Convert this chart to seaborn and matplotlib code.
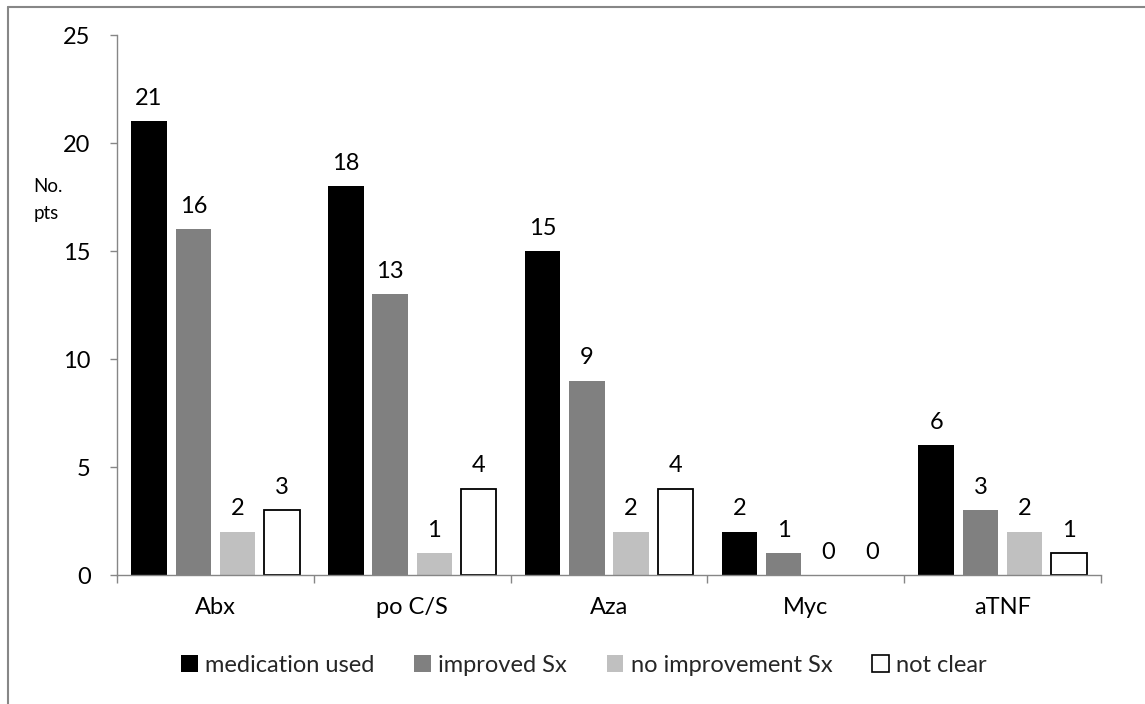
import matplotlib
matplotlib.use("Agg")
import matplotlib.pyplot as plt
import matplotlib.lines as mlines
import numpy as np
import pandas as pd
import seaborn as sns

# Treatment groups and outcome counts (number of patients)
categories = ["Abx", "po C/S", "Aza", "Myc", "aTNF"]
series_names = ["medication used", "improved Sx", "no improvement Sx", "not clear"]
medication_used = [21, 18, 15, 2, 6]
improved_sx = [16, 13, 9, 1, 3]
no_improvement_sx = [2, 1, 2, 0, 2]
not_clear = [3, 4, 4, 0, 1]
y_ticks = [0, 5, 10, 15, 20, 25]

series_values = [medication_used, improved_sx, no_improvement_sx, not_clear]
df = pd.DataFrame(
    [(c, s, v) for s, vals in zip(series_names, series_values) for c, v in zip(categories, vals)],
    columns=["drug", "outcome", "pts"],
)

sns.set_theme(style="white")
plt.rcParams["font.family"] = ["Lato", "DejaVu Sans"]

face_colors = {"medication used": "#000000", "improved Sx": "#808080",
               "no improvement Sx": "#C0C0C0", "not clear": "#FFFFFF"}
axis_grey = "#868686"
FS = 17

fig = plt.figure(figsize=(11.45, 7.04), dpi=100)
ax = fig.add_axes([0.1022, 0.1832, 0.8594, 0.7670])

sns.barplot(data=df, x="drug", y="pts", hue="outcome", hue_order=series_names,
            order=categories, palette=face_colors, saturation=1, width=0.9, gap=0.2,
            ax=ax, legend=False, errorbar=None)

for name, cont in zip(series_names, ax.containers):
    for patch in cont:
        if name == "not clear" and patch.get_height() > 0:
            patch.set_edgecolor("#000000")
            patch.set_linewidth(1.3)
        else:
            patch.set_edgecolor("none")
            patch.set_linewidth(0)
    ax.bar_label(cont, labels=[str(int(p.get_height())) for p in cont],
                 padding=9, fontsize=FS, color="#000000")

ax.set_xlim(-0.5, len(categories) - 0.5)
ax.set_ylim(0, 25)
ax.set_yticks(y_ticks)
ax.set_xlabel("")
ax.set_ylabel("")

# category labels centred, tick marks at the boundaries between groups
ax.set_xticks(range(len(categories)))
ax.set_xticklabels(categories)
ax.set_xticks(np.arange(-0.5, len(categories)), minor=True)
ax.tick_params(axis="x", which="major", length=0, pad=16, labelsize=FS, colors="#000000")
ax.tick_params(axis="x", which="minor", bottom=True, length=6, width=1, color=axis_grey, direction="out")
ax.tick_params(axis="y", left=True, length=5, width=1, color=axis_grey, pad=14,
               labelsize=FS, labelcolor="#000000", direction="out")

for side in ["top", "right"]:
    ax.spines[side].set_visible(False)
for side in ["left", "bottom"]:
    ax.spines[side].set_color(axis_grey)
    ax.spines[side].set_linewidth(1)

fig.text(0.0290, 0.716, "No.\npts", fontsize=13.5, ha="left", va="center",
         linespacing=1.75, color="#000000")

handles = []
for name in series_names:
    handles.append(plt.Rectangle((0, 0), 1, 1, facecolor=face_colors[name],
                                 edgecolor="#000000" if name == "not clear" else "none",
                                 linewidth=1.2))
fig.legend(handles, series_names, loc="center", bbox_to_anchor=(0.51, 0.055), ncol=4,
           frameon=False, fontsize=FS, handlelength=0.7, handleheight=0.7,
           handletextpad=0.3, columnspacing=1.7)

# outer frame of the chart area
fig.add_artist(mlines.Line2D([7.5 / 1145, 1.0], [1 - 6.5 / 704, 1 - 6.5 / 704],
                             transform=fig.transFigure, color="#878787", linewidth=1.5))
fig.add_artist(mlines.Line2D([7.5 / 1145, 7.5 / 1145], [0.0, 1 - 6.5 / 704],
                             transform=fig.transFigure, color="#878787", linewidth=1.5))

fig.savefig("out.png", dpi=100)
